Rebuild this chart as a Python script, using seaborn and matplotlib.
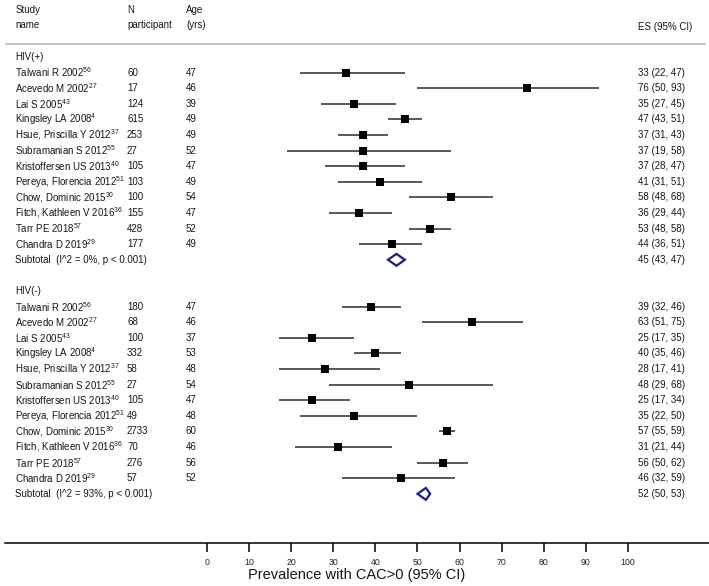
"""
Forest plot — prevalence of CAC>0 in HIV(+) and HIV(-) groups.
"""

import matplotlib
matplotlib.use("Agg")

import matplotlib.pyplot as plt
import numpy as np
import pandas as pd
import seaborn as sns

# ── Data ────────────────────────────────────────────────────────
studies = [
    "Talwani R 2002", "Acevedo M 2002", "Lai S 2005", "Kingsley LA 2008",
    "Hsue, Priscilla Y 2012", "Subramanian S 2012", "Kristoffersen US 2013",
    "Pereya, Florencia 2012", "Chow, Dominic 2015", "Fitch, Kathleen V 2016",
    "Tarr PE 2018", "Chandra D 2019",
]
refs = ["56", "27", "43", "4", "37", "55", "40", "51", "30", "36", "57", "29"]

pos_n = [60, 17, 124, 615, 253, 27, 105, 103, 100, 155, 428, 177]
pos_age = [47, 46, 39, 49, 49, 52, 47, 49, 54, 47, 52, 49]
pos_es = [33, 76, 35, 47, 37, 37, 37, 41, 58, 36, 53, 44]
pos_lo = [22, 50, 27, 43, 31, 19, 28, 31, 48, 29, 48, 36]
pos_hi = [47, 93, 45, 51, 43, 58, 47, 51, 68, 44, 58, 51]
pos_sub = (45, 43, 47)
pos_sub_label = "Subtotal  (I^2 = 0%, p < 0.001)"

neg_n = [180, 68, 100, 332, 58, 27, 105, 49, 2733, 70, 276, 57]
neg_age = [47, 46, 37, 53, 48, 54, 47, 48, 60, 46, 56, 52]
neg_es = [39, 63, 25, 40, 28, 48, 25, 35, 57, 31, 56, 46]
neg_lo = [32, 51, 17, 35, 17, 29, 17, 22, 55, 21, 50, 32]
neg_hi = [46, 75, 35, 46, 41, 68, 34, 50, 59, 44, 62, 59]
neg_sub = (52, 50, 53)
neg_sub_label = "Subtotal  (I^2 = 93%, p < 0.001)"

x_ticks = [0, 10, 20, 30, 40, 50, 60, 70, 80, 90, 100]
x_label = "Prevalence with CAC>0 (95% CI)"

# ── Style ───────────────────────────────────────────────────────
sns.set_theme(style="white")
plt.rcParams["font.family"] = ["Liberation Sans", "DejaVu Sans"]
plt.rcParams["mathtext.fontset"] = "custom"
plt.rcParams["mathtext.rm"] = "Liberation Sans"
plt.rcParams["mathtext.it"] = "Liberation Sans"

TXT = "#161616"
FS = 7
COL_STUDY, COL_N, COL_AGE, COL_ES = -45.5, -19.0, -5.0, 102.4

# build one frame per group, rows counted from the top
frames = []
for offset, group, n, age, es, lo, hi in [
    (1, "HIV(+)", pos_n, pos_age, pos_es, pos_lo, pos_hi),
    (16, "HIV(-)", neg_n, neg_age, neg_es, neg_lo, neg_hi),
]:
    frames.append(pd.DataFrame({
        "group": group, "study": studies, "ref": refs, "n": n, "age": age,
        "es": es, "lo": lo, "hi": hi,
        "row": np.arange(len(studies)) + offset,
    }))
df = pd.concat(frames, ignore_index=True)

fig = plt.figure(figsize=(7.09, 5.86), dpi=100)
ax = fig.add_axes([5 / 709, 1 - 543 / 586, 704 / 709, 543 / 586])

# confidence intervals + point estimates
ax.hlines(df["row"], df["lo"], df["hi"], color="#2b2b2b", lw=1.1, zorder=2)
sns.scatterplot(data=df, x="es", y="row", marker="s", color="black",
                s=32, linewidth=0, ax=ax, zorder=3, legend=False)

# study text columns
for _, r in df.iterrows():
    ax.text(COL_STUDY, r["row"], f"{r['study']}$^{{{r['ref']}}}$",
            fontsize=FS, color=TXT, va="center")
    ax.text(COL_N, r["row"], str(r["n"]), fontsize=FS, color=TXT, va="center")
    ax.text(COL_AGE, r["row"], str(r["age"]), fontsize=FS, color=TXT, va="center")
    ax.text(COL_ES, r["row"], f"{r['es']} ({r['lo']}, {r['hi']})",
            fontsize=FS, color=TXT, va="center")

# group headers and subtotal diamonds
for head_row, name, sub, label in [(0, "HIV(+)", pos_sub, pos_sub_label),
                                   (15, "HIV(-)", neg_sub, neg_sub_label)]:
    ax.text(COL_STUDY, head_row, name, fontsize=FS, color=TXT, va="center")
    srow = head_row + 13
    es, lo, hi = sub
    ax.fill([lo, es, hi, es], [srow, srow - 0.38, srow, srow + 0.38],
            facecolor="white", edgecolor="#1c1c8a", lw=1.6, zorder=3)
    ax.text(COL_STUDY, srow, label, fontsize=FS, color=TXT, va="center")
    ax.text(COL_ES, srow, f"{es} ({lo}, {hi})", fontsize=FS, color=TXT, va="center")

# column headers
for x, top, bottom in [(COL_STUDY, "Study", "name"), (COL_N, "N", "participant"),
                       (COL_AGE, "Age", "(yrs)")]:
    ax.text(x, -3.04, top, fontsize=FS, color=TXT, va="center")
    ax.text(x, -2.05, bottom, fontsize=FS, color=TXT, va="center")
ax.text(COL_ES, -1.95, "ES (95% CI)", fontsize=FS, color=TXT, va="center")
ax.axhline(-0.83, xmin=0, xmax=0.995, color="#c4c4c4", lw=1.4)

# axes
ax.set_xlim(-47.98, 119.24)
ax.set_ylim(31.15, -3.65)
ax.set_yticks([])
ax.set_xticks(x_ticks)
ax.set_xticklabels([str(t) for t in x_ticks], fontsize=6.3, color="#222222")
ax.tick_params(axis="x", bottom=True, direction="out", length=6.5, width=1.1,
               color="black", pad=4.5)
for side in ["top", "left", "right"]:
    ax.spines[side].set_visible(False)
ax.spines["bottom"].set_color("black")
ax.spines["bottom"].set_linewidth(1.1)
ax.set_xlabel(x_label, fontsize=10.5, color=TXT, labelpad=0.5)
ax.set_ylabel("")

fig.savefig("out.png", dpi=100)
plt.close(fig)
